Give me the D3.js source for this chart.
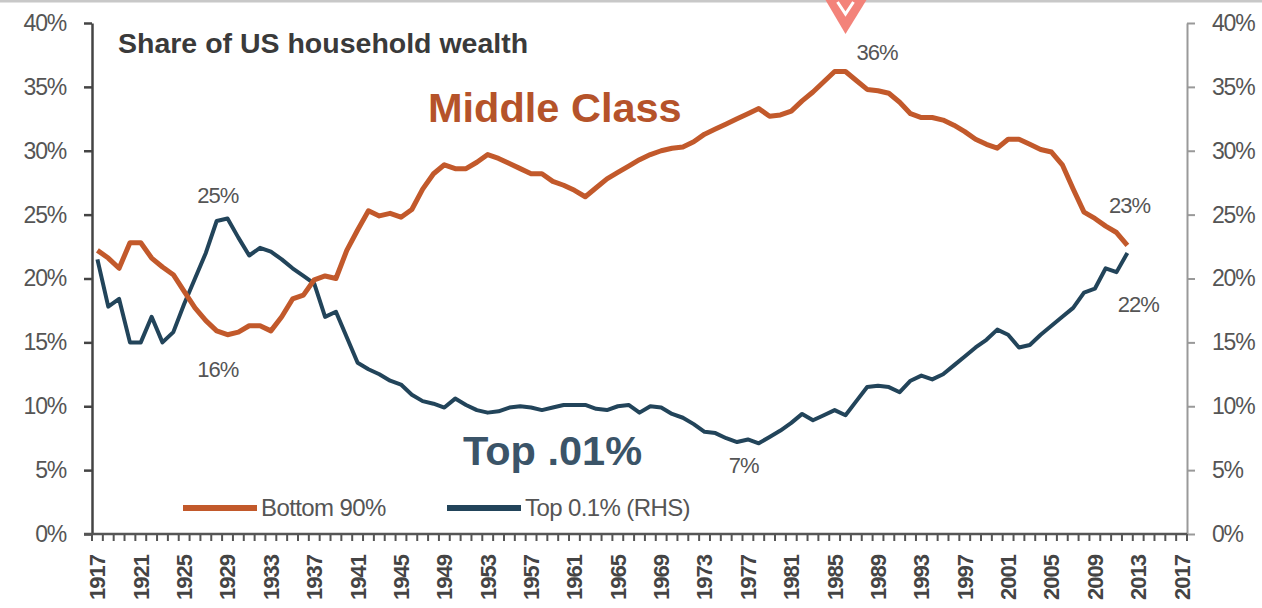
<!DOCTYPE html>
<html>
<head>
<meta charset="utf-8">
<script src="https://cdn.jsdelivr.net/npm/d3@7"></script>
<style>
	body { margin: 0; background: #fff; }
	svg { display: block; font-family: 'Liberation Sans', Arial, sans-serif; }
</style>
</head>
<body>
<div id="chart"></div>
<script>
// years 1917..2012, one value per year
const years = d3.range(1917, 2013);
const bottom90 = [
	22.2, 21.6, 20.8, 22.8, 22.8, 21.6, 20.9, 20.3, 19.0, 17.7,
	16.7, 15.9, 15.6, 15.8, 16.3, 16.3, 15.9, 17.0, 18.4, 18.7,
	19.9, 20.2, 20.0, 22.2, 23.8, 25.3, 24.9, 25.1, 24.8, 25.4,
	27.0, 28.2, 28.9, 28.6, 28.6, 29.1, 29.7, 29.4, 29.0, 28.6,
	28.2, 28.2, 27.6, 27.3, 26.9, 26.4, 27.1, 27.8, 28.3, 28.8,
	29.3, 29.7, 30.0, 30.2, 30.3, 30.7, 31.3, 31.7, 32.1, 32.5,
	32.9, 33.3, 32.7, 32.8, 33.1, 33.9, 34.6, 35.4, 36.2, 36.2,
	35.5, 34.8, 34.7, 34.5, 33.8, 32.9, 32.6, 32.6, 32.4, 32.0,
	31.5, 30.9, 30.5, 30.2, 30.9, 30.9, 30.5, 30.1, 29.9, 28.9,
	27.0, 25.2, 24.7, 24.1, 23.6, 22.6
];
const top01 = [
	21.5, 17.8, 18.4, 15.0, 15.0, 17.0, 15.0, 15.8, 18.0, 20.0,
	22.0, 24.5, 24.7, 23.2, 21.8, 22.4, 22.1, 21.5, 20.8, 20.2,
	19.6, 17.0, 17.4, 15.4, 13.4, 12.9, 12.5, 12.0, 11.7, 10.9,
	10.4, 10.2, 9.9, 10.6, 10.1, 9.7, 9.5, 9.6, 9.9, 10.0,
	9.9, 9.7, 9.9, 10.1, 10.1, 10.1, 9.8, 9.7, 10.0, 10.1,
	9.5, 10.0, 9.9, 9.4, 9.1, 8.6, 8.0, 7.9, 7.5, 7.2,
	7.4, 7.1, 7.6, 8.1, 8.7, 9.4, 8.9, 9.3, 9.7, 9.3,
	10.4, 11.5, 11.6, 11.5, 11.1, 12.0, 12.4, 12.1, 12.5, 13.2,
	13.9, 14.6, 15.2, 16.0, 15.6, 14.6, 14.8, 15.6, 16.3, 17.0,
	17.7, 18.9, 19.2, 20.8, 20.5, 22.0
];
const yTicks = [0, 5, 10, 15, 20, 25, 30, 35, 40];
const xLabels = d3.range(1917, 2018, 4);
const callouts = [
	{ year: 1928.1, value: 25, text: '25%', dy: 12 },
	{ year: 1928.1, value: 16, text: '16%', dy: -47 },
	{ year: 1988.9, value: 36, text: '36%', dy: 14 },
	{ year: 2012.2, value: 23, text: '23%', dy: 27 },
	{ year: 2013, value: 22, text: '22%', dy: -59 },
	{ year: 1976.6, value: 7, text: '7%', dy: -28 }
];

const width = 1262;
const height = 608;
const orange = '#c2592b';
const navy = '#22445a';

const svg = d3.select('#chart')
	.append('svg')
	.attr('width', width)
	.attr('height', height);

// category style axis: each year is a slot, ticks between slots
const x = d3.scaleLinear().domain([1916.5, 2017.5]).range([92, 1187]);
const y = d3.scaleLinear().domain([0, 40]).range([534, 23]);

// thin grey frame line at the very top
svg.append('line')
	.attr('x1', 0).attr('x2', width)
	.attr('y1', 1).attr('y2', 1)
	.attr('stroke', '#c8c8c8')
	.attr('stroke-width', 3);

// left axis
const yAxisL = svg.append('g')
	.attr('transform', `translate(${x.range()[0]},0)`)
	.call(d3.axisLeft(y).tickValues(yTicks).tickSize(8).tickSizeOuter(0).tickPadding(18).tickFormat(d => d + '%'));
yAxisL.select('.domain').attr('stroke', '#444').attr('stroke-width', 2.5);
yAxisL.selectAll('.tick line').attr('stroke', '#444').attr('stroke-width', 2.5);
yAxisL.selectAll('.tick text')
	.attr('fill', '#555')
	.style('font-size', '23px')
	.attr('letter-spacing', '-1.2px');

// right axis (RHS, same 0-40% range)
const yAxisR = svg.append('g')
	.attr('transform', `translate(${x.range()[1]},0)`)
	.call(d3.axisRight(y).tickValues(yTicks).tickSize(8).tickSizeOuter(0).tickPadding(17).tickFormat(d => d + '%'));
yAxisR.select('.domain').attr('stroke', '#999').attr('stroke-width', 2);
yAxisR.selectAll('.tick line').attr('stroke', '#999').attr('stroke-width', 2);
yAxisR.selectAll('.tick text')
	.attr('fill', '#555')
	.style('font-size', '23px')
	.attr('letter-spacing', '-1.2px');

// x axis: minor tick at each slot boundary, labels every 4 years
const xAxis = svg.append('g').attr('transform', `translate(0,${y(0)})`);
xAxis.append('line')
	.attr('x1', x.range()[0] - 8).attr('x2', x.range()[1])
	.attr('stroke', '#555')
	.attr('stroke-width', 2.5);
xAxis.selectAll('.minor')
	.data(d3.range(1916.5, 2018, 1))
	.join('line')
	.attr('class', 'minor')
	.attr('x1', d => x(d)).attr('x2', d => x(d))
	.attr('y1', 0).attr('y2', 7)
	.attr('stroke', '#555')
	.attr('stroke-width', 2);
xAxis.selectAll('.xlab')
	.data(xLabels)
	.join('text')
	.attr('class', 'xlab')
	.attr('transform', d => `translate(${x(d)},21) rotate(-90)`)
	.attr('dy', '0.36em')
	.attr('text-anchor', 'end')
	.attr('fill', '#444')
	.attr('letter-spacing', '-1px')
	.style('font-size', '22px')
	.style('font-weight', 'bold')
	.text(d => d);

// lines
const line = d3.line()
	.x((d, i) => x(years[i]))
	.y(d => y(d));

svg.append('path')
	.datum(top01)
	.attr('fill', 'none')
	.attr('stroke', navy)
	.attr('stroke-width', 4)
	.attr('stroke-linejoin', 'round')
	.attr('d', line);

svg.append('path')
	.datum(bottom90)
	.attr('fill', 'none')
	.attr('stroke', orange)
	.attr('stroke-width', 5)
	.attr('stroke-linejoin', 'round')
	.attr('d', line);

// callout values
svg.selectAll('.callout')
	.data(callouts)
	.join('text')
	.attr('class', 'callout')
	.attr('x', d => x(d.year))
	.attr('y', d => y(d.value) - d.dy)
	.attr('text-anchor', 'middle')
	.attr('fill', '#555')
	.attr('letter-spacing', '-1px')
	.style('font-size', '22px')
	.text(d => d.text);

// titles
svg.append('text')
	.attr('x', 118)
	.attr('y', 53)
	.attr('fill', '#3a3a3a')
	.style('font-size', '28.5px')
	.style('font-weight', 'bold')
	.text('Share of US household wealth');

svg.append('text')
	.attr('x', 428)
	.attr('y', 122)
	.attr('fill', '#b5532a')
	.style('font-size', '41.5px')
	.style('font-weight', 'bold')
	.text('Middle Class');

svg.append('text')
	.attr('x', 463)
	.attr('y', 465)
	.attr('fill', '#3b5468')
	.style('font-size', '41.5px')
	.style('font-weight', 'bold')
	.text('Top .01%');

// legend
const legend = svg.append('g').attr('transform', 'translate(0,508)');
const legendItems = [
	{ label: 'Bottom 90%', color: orange, x: 183 },
	{ label: 'Top 0.1% (RHS)', color: navy, x: 447 }
];
legendItems.forEach(item => {
	legend.append('line')
		.attr('x1', item.x).attr('x2', item.x + 74)
		.attr('stroke', item.color)
		.attr('stroke-width', 6);
	legend.append('text')
		.attr('x', item.x + 78)
		.attr('dy', '0.35em')
		.attr('fill', '#555')
		.attr('letter-spacing', '-0.6px')
		.style('font-size', '24px')
		.text(item.label);
});

// pink marker arrow over the peak
const ax = x(1986);
svg.append('path')
	.attr('d', `M${ax - 20},0 L${ax + 21},0 L${ax},34 Z`)
	.attr('fill', '#f3837a');
svg.append('path')
	.attr('d', `M${ax - 8},2 L${ax},14 L${ax + 8},2`)
	.attr('fill', 'none')
	.attr('stroke', '#fff')
	.attr('stroke-width', 3);
</script>
</body>
</html>
